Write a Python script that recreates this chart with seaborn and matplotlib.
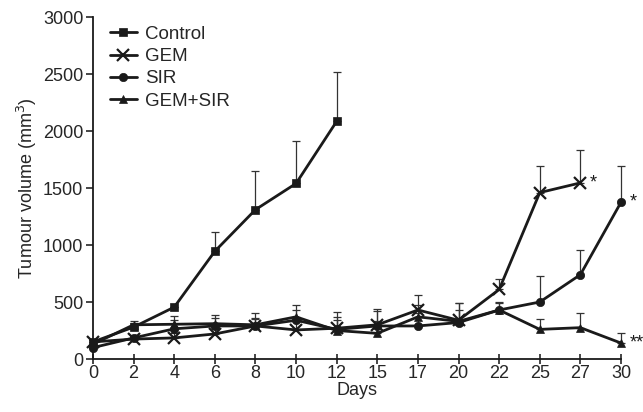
import matplotlib
matplotlib.use('Agg')
import matplotlib.pyplot as plt
import numpy as np
import pandas as pd
import seaborn as sns

days = ['0', '2', '4', '6', '8', '10', '12', '15', '17', '20', '22', '25', '27', '30']

control = [150, 280, 455, 945, 1310, 1540, 2085]
control_err = [20, 40, 0, 165, 340, 370, 435]

gem = [150, 175, 185, 220, 290, 255, 270, 300, 430, 340, 610, 1460, 1545]
gem_err = [20, 30, 40, 40, 60, 80, 100, 120, 130, 150, 90, 230, 290]

sir = [100, 185, 265, 290, 290, 340, 260, 290, 290, 320, 430, 500, 740, 1375]
sir_err = [20, 30, 110, 100, 110, 130, 150, 150, 110, 170, 70, 230, 220, 320]

combo = [130, 300, 305, 310, 300, 370, 250, 225, 370, 330, 430, 260, 275, 140]
combo_err = [20, 30, 40, 50, 60, 60, 90, 110, 100, 100, 60, 90, 125, 90]

groups = ['Control', 'GEM', 'SIR', 'GEM+SIR']
values = [control, gem, sir, combo]
errors = [control_err, gem_err, sir_err, combo_err]
markers = ['s', 'x', 'o', '^']
msizes = [6, 9, 6, 6]
stars = {'GEM': '*', 'SIR': '*', 'GEM+SIR': '**'}

ink = '#1a1a1a'

sns.set_style('ticks')
plt.rcParams['font.family'] = ['Liberation Sans', 'DejaVu Sans']

fig = plt.figure(figsize=(6.43, 4.12), dpi=100)
ax = fig.add_axes([0.1446, 0.1286, 0.8212, 0.8301])

for name, vals, errs, mk, ms in zip(groups, values, errors, markers, msizes):
    pos = np.arange(len(vals))
    df = pd.DataFrame({'pos': pos, 'vol': vals})
    ax.errorbar(pos, vals, yerr=[np.zeros(len(vals)), errs], fmt='none',
                ecolor='#333333', elinewidth=0.9, capsize=3, capthick=0.9,
                clip_on=False, zorder=2)
    sns.lineplot(data=df, x='pos', y='vol', ax=ax, color=ink, linewidth=2.0,
                 marker=mk, markersize=ms, markeredgewidth=1.6 if mk == 'x' else 0.5,
                 markeredgecolor=ink, label=name, clip_on=False, zorder=3)
    if name in stars:
        ax.text(pos[-1] + 0.22, vals[-1], stars[name], fontsize=13,
                va='center', ha='left', color=ink)

ax.set_xlim(0, len(days) - 1)
ax.set_ylim(0, 3000)
ax.set_xticks(range(len(days)))
ax.set_xticklabels(days)
ax.set_yticks(range(0, 3001, 500))
ax.set_xlabel('Days', fontsize=13, labelpad=0)
ax.set_ylabel('Tumour volume (mm$^3$)', fontsize=13, labelpad=3)
ax.tick_params(axis='x', direction='inout', length=7, width=1.2, labelsize=13, pad=1)
ax.tick_params(axis='y', direction='out', length=5, width=1.2, labelsize=13, pad=2)
for s in ['left', 'bottom']:
    ax.spines[s].set_linewidth(1.3)
    ax.spines[s].set_color(ink)
sns.despine(ax=ax)

ax.legend(loc='upper left', frameon=False, fontsize=13.5, handlelength=1.45,
          handletextpad=0.42, labelspacing=0.28, borderaxespad=0, borderpad=0,
          bbox_to_anchor=(0.032, 0.975))

fig.savefig('out.png', dpi=100)
